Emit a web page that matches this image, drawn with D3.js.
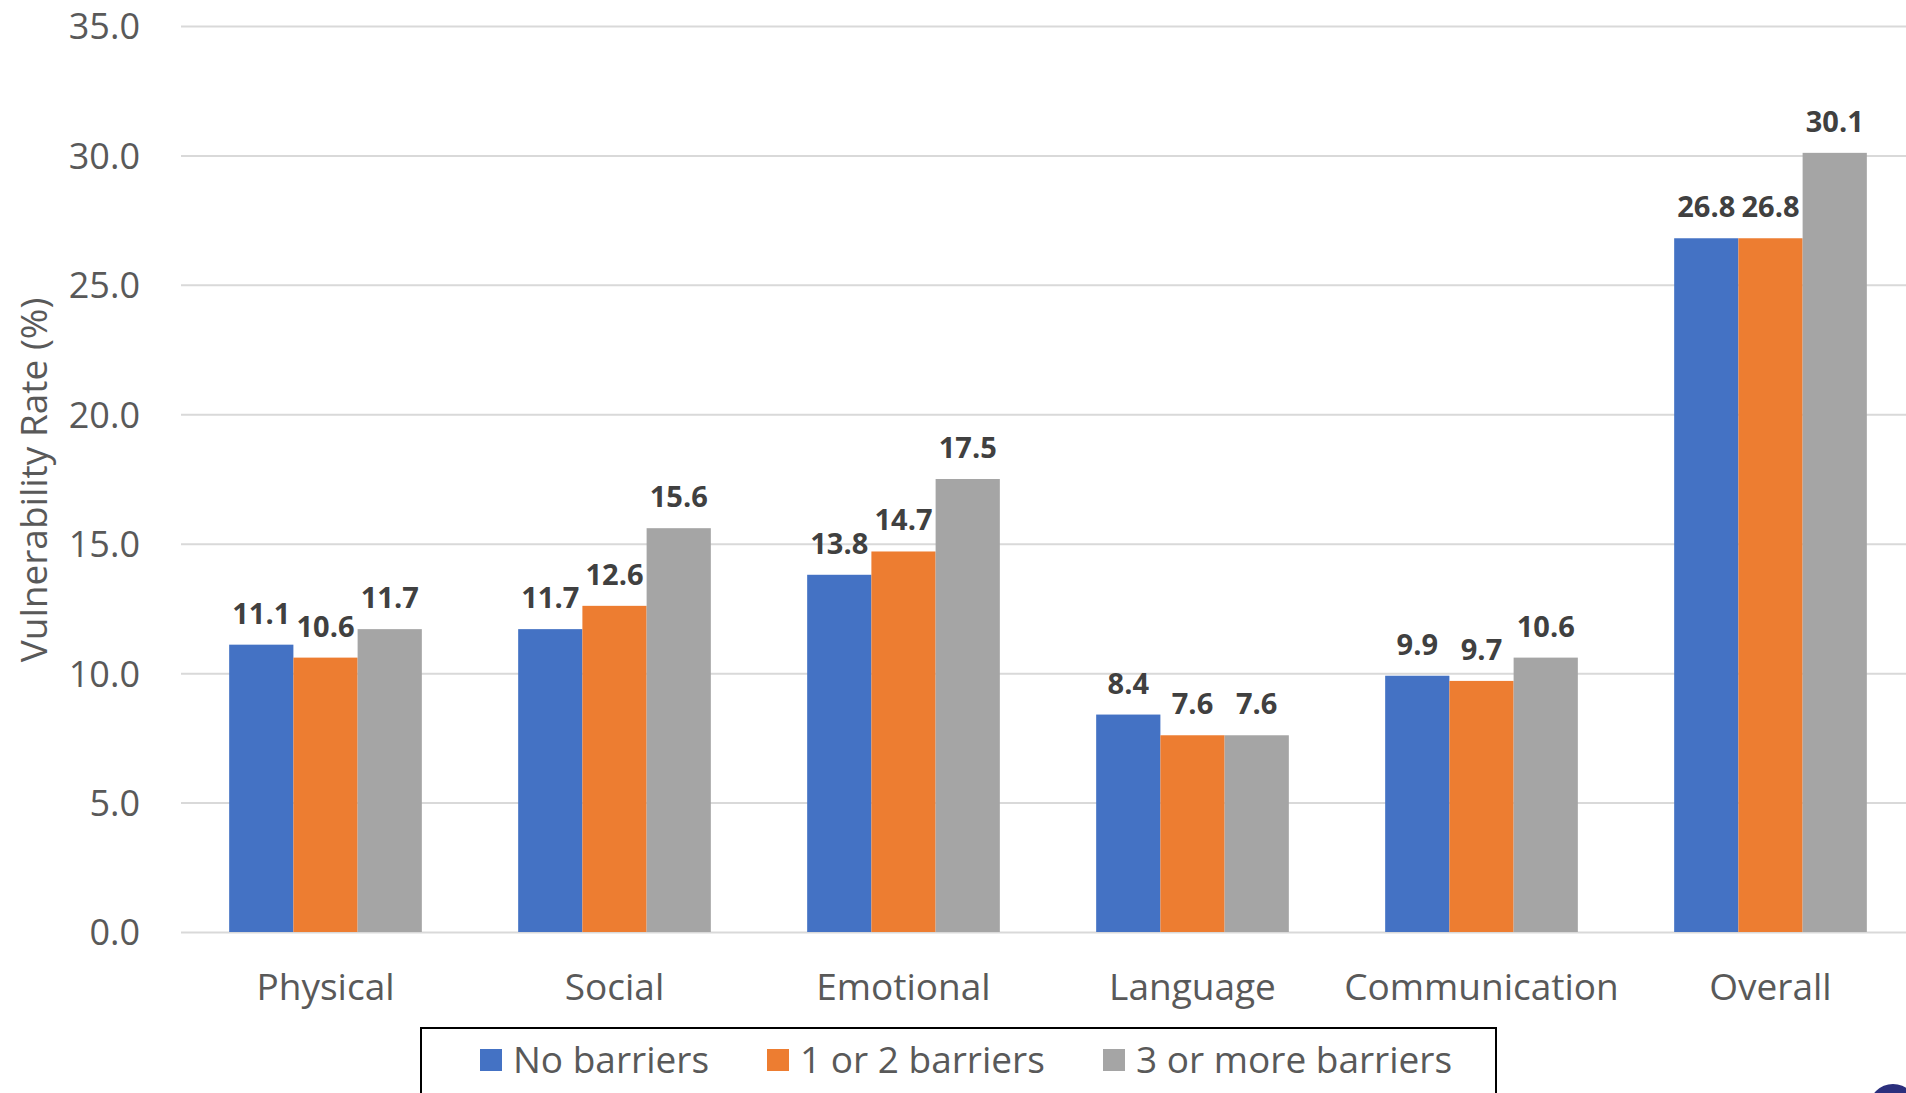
<!DOCTYPE html>
<html>
<head>
<meta charset="utf-8">
<script src="https://cdn.jsdelivr.net/npm/d3@7"></script>
<style>
    html, body { margin: 0; padding: 0; background: #fff; overflow: hidden; }
    text { font-family: "Open Sans", "Noto Sans", sans-serif; }
</style>
</head>
<body>
<div id="chart"></div>
<script>
// Chart data
const categories = ["Physical", "Social", "Emotional", "Language", "Communication", "Overall"];
const seriesNames = ["No barriers", "1 or 2 barriers", "3 or more barriers"];
const noBarriers = [11.1, 11.7, 13.8, 8.4, 9.9, 26.8];
const oneOrTwo = [10.6, 12.6, 14.7, 7.6, 9.7, 26.8];
const threeOrMore = [11.7, 15.6, 17.5, 7.6, 10.6, 30.1];
const yTicks = [0, 5, 10, 15, 20, 25, 30, 35];

const seriesValues = [noBarriers, oneOrTwo, threeOrMore];

const W = 1906, H = 1093;
const margin = {top: 26, right: -9, bottom: 161, left: 181};

const svg = d3.select("#chart").append("svg")
    .attr("width", W)
    .attr("height", H);

// Scales
const x = d3.scaleBand()
    .domain(categories)
    .range([margin.left, W - margin.right])
    .paddingInner(1 / 3)
    .paddingOuter(1 / 6);

const xSub = d3.scaleBand()
    .domain(seriesNames)
    .range([0, x.bandwidth()]);

const y = d3.scaleLinear()
    .domain([0, 35])
    .range([H - margin.bottom, margin.top]);

const color = d3.scaleOrdinal()
    .domain(seriesNames)
    .range(["#4472C4", "#ED7D31", "#A5A5A5"]);

// Gridlines + tick labels
const yAxis = svg.append("g")
    .attr("transform", "translate(" + margin.left + ",0)")
    .call(d3.axisLeft(y).tickValues(yTicks).tickFormat(d3.format(".1f"))
        .tickSize(-(W - margin.left)).tickPadding(41));
yAxis.select(".domain").remove();
yAxis.selectAll(".tick line")
    .attr("stroke", "#d9d9d9")
    .attr("stroke-width", 2);
yAxis.selectAll(".tick text")
    .attr("fill", "#595959")
    .style("font-size", "36px")
    .attr("dy", "0.36em");

// Bars
const rows = categories.map((c, i) => ({
    label: c,
    values: seriesNames.map((s, j) => ({series: s, value: seriesValues[j][i]}))
}));

const groups = svg.append("g")
    .selectAll("g")
    .data(rows)
    .join("g")
    .attr("transform", (d) => "translate(" + x(d.label) + ",0)");

groups.selectAll("rect")
    .data((d) => d.values)
    .join("rect")
    .attr("x", (d) => xSub(d.series))
    .attr("y", (d) => y(d.value))
    .attr("width", xSub.bandwidth())
    .attr("height", (d) => y(0) - y(d.value))
    .attr("fill", (d) => color(d.series));

// Value labels
groups.selectAll("text")
    .data((d) => d.values)
    .join("text")
    .attr("x", (d) => xSub(d.series) + xSub.bandwidth() / 2)
    .attr("y", (d) => y(d.value) - 21)
    .attr("text-anchor", "middle")
    .attr("fill", "#404040")
    .style("font-size", "29px")
    .style("font-weight", "bold")
    .text((d) => d3.format(".1f")(d.value));

// Category labels
svg.append("g")
    .selectAll("text")
    .data(categories)
    .join("text")
    .attr("x", (d) => x(d) + x.bandwidth() / 2)
    .attr("y", 1000)
    .attr("text-anchor", "middle")
    .attr("fill", "#595959")
    .style("font-size", "37px")
    .text((d) => d);

// Y axis title
svg.append("text")
    .attr("transform", "translate(47," + 480 + ") rotate(-90)")
    .attr("text-anchor", "middle")
    .attr("fill", "#595959")
    .style("font-size", "37px")
    .text("Vulnerability Rate (%)");

// Legend
const legend = svg.append("g");
legend.append("rect")
    .attr("x", 421)
    .attr("y", 1028)
    .attr("width", 1075)
    .attr("height", 100)
    .attr("fill", "none")
    .attr("stroke", "#000")
    .attr("stroke-width", 2);

const legendX = [480, 767, 1103];
const items = legend.selectAll("g")
    .data(seriesNames)
    .join("g")
    .attr("transform", (d, i) => "translate(" + legendX[i] + ",1049)");

items.append("rect")
    .attr("width", 22)
    .attr("height", 22)
    .attr("fill", color);

items.append("text")
    .attr("x", 33)
    .attr("y", 11)
    .attr("dy", "0.36em")
    .attr("fill", "#595959")
    .style("font-size", "37px")
    .text((d) => d);

// corner badge
svg.append("circle")
    .attr("cx", 1893)
    .attr("cy", 1108)
    .attr("r", 24)
    .attr("fill", "#2b2f7d");
</script>
</body>
</html>
